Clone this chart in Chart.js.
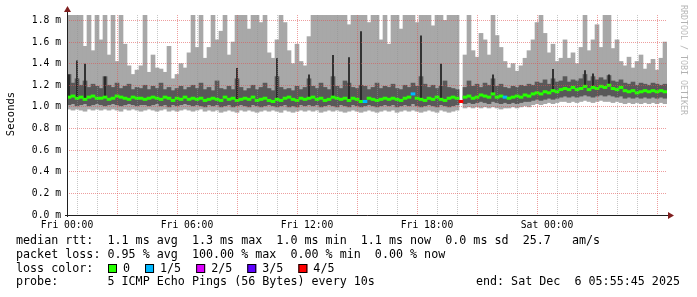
<!DOCTYPE html>
<html>
<head>
<meta charset="utf-8">
<script src="https://cdn.jsdelivr.net/npm/chart.js@4.4.1/dist/chart.umd.min.js"></script>
<style>
	html, body { margin: 0; padding: 0; background: #fff; }
	#c { display: block; }
</style>
</head>
<body>
<canvas id="c" width="697" height="297"></canvas>
<script>
// one sample every 12 minutes, starting Fri 00:00 (values in ms)
const startMinute = 0;
const stepMinutes = 12;

const rttMax = [
	1.85,1.85,1.85,1.85,1.56,1.85,1.52,1.85,1.62,1.85,
	1.48,1.85,1.42,1.85,1.58,1.38,1.30,1.34,1.38,1.85,
	1.32,1.48,1.36,1.35,1.32,1.56,1.26,1.30,1.40,1.36,
	1.50,1.85,1.55,1.85,1.45,1.55,1.85,1.62,1.70,1.85,
	1.48,1.60,1.85,1.85,1.85,1.72,1.85,1.85,1.78,1.85,
	1.50,1.45,1.62,1.85,1.78,1.52,1.40,1.58,1.42,1.38,
	1.65,1.85,1.85,1.85,1.85,1.85,1.85,1.85,1.85,1.85,
	1.76,1.85,1.85,1.85,1.85,1.78,1.85,1.85,1.62,1.85,
	1.58,1.85,1.85,1.72,1.85,1.85,1.85,1.78,1.85,1.85,
	1.85,1.75,1.85,1.85,1.80,1.85,1.85,1.85,null,1.48,
	1.85,1.52,1.46,1.68,1.62,1.48,1.85,1.66,1.55,1.42,
	1.36,1.40,1.33,1.38,1.45,1.52,1.62,1.78,1.85,1.68,
	1.50,1.58,1.42,1.45,1.62,1.45,1.50,1.40,1.55,1.85,
	1.52,1.62,1.76,1.55,1.85,1.85,1.54,1.62,1.42,1.38,
	1.46,1.36,1.42,1.48,1.35,1.40,1.44,1.34,1.45,1.60
];
const rttHi = [
	1.30,1.22,1.26,1.20,1.24,1.18,1.21,1.19,1.17,1.28,
	1.20,1.18,1.22,1.17,1.19,1.21,1.16,1.18,1.17,1.20,
	1.16,1.19,1.17,1.22,1.16,1.18,1.15,1.17,1.19,1.16,
	1.18,1.20,1.17,1.22,1.16,1.18,1.15,1.24,1.17,1.16,
	1.19,1.16,1.26,1.18,1.15,1.17,1.20,1.16,1.18,1.22,
	1.17,1.15,1.28,1.18,1.16,1.17,1.15,1.19,1.16,1.18,
	1.26,1.19,1.17,1.22,1.18,1.16,1.28,1.19,1.17,1.24,
	1.22,1.18,1.17,1.20,1.19,1.16,1.18,1.22,1.17,1.19,
	1.18,1.21,1.17,1.16,1.20,1.18,1.22,1.19,1.28,1.21,
	1.18,1.20,1.17,1.19,1.24,1.18,1.17,1.16,null,1.18,
	1.24,1.19,1.21,1.18,1.22,1.20,1.26,1.19,1.21,1.18,
	1.17,1.19,1.18,1.20,1.19,1.21,1.20,1.23,1.22,1.25,
	1.21,1.26,1.23,1.24,1.28,1.23,1.25,1.24,1.26,1.30,
	1.24,1.28,1.25,1.27,1.25,1.29,1.24,1.23,1.25,1.22,
	1.21,1.23,1.20,1.22,1.21,1.20,1.22,1.21,1.20,1.21
];
const rttMed = [
	1.09,1.10,1.08,1.09,1.07,1.09,1.10,1.08,1.08,1.09,
	1.07,1.08,1.10,1.09,1.08,1.07,1.09,1.08,1.08,1.07,
	1.08,1.09,1.08,1.07,1.09,1.08,1.06,1.08,1.07,1.09,
	1.07,1.08,1.07,1.08,1.06,1.07,1.08,1.07,1.06,1.09,
	1.07,1.08,1.06,1.07,1.08,1.07,1.09,1.06,1.07,1.08,
	1.06,1.05,1.07,1.06,1.08,1.09,1.07,1.06,1.08,1.07,
	1.08,1.09,1.07,1.08,1.06,1.07,1.09,1.08,1.07,1.08,
	1.06,1.08,1.07,1.05,1.05,1.08,1.07,1.06,1.07,1.08,
	1.07,1.08,1.07,1.06,1.08,1.09,1.12,1.08,1.07,1.06,
	1.08,1.07,1.09,1.07,1.06,1.08,1.09,1.08,1.05,1.09,
	1.10,1.08,1.09,1.11,1.10,1.09,1.12,1.09,1.10,1.09,
	1.08,1.09,1.10,1.09,1.11,1.10,1.12,1.13,1.12,1.14,
	1.13,1.15,1.14,1.16,1.17,1.16,1.18,1.16,1.17,1.19,
	1.16,1.18,1.17,1.19,1.18,1.20,1.17,1.16,1.18,1.15,
	1.14,1.15,1.13,1.14,1.15,1.14,1.15,1.14,1.15,1.14
];
const rttLo = [
	1.02,1.03,1.01,1.02,1.03,1.01,1.02,1.03,1.02,1.01,
	1.02,1.03,1.02,1.01,1.02,1.03,1.02,1.01,1.02,1.02,
	1.01,1.02,1.03,1.01,1.02,1.00,1.02,1.01,1.02,1.03,
	1.02,1.01,1.02,1.01,1.00,1.02,1.01,1.02,1.00,1.01,
	1.02,1.00,1.01,1.02,1.01,1.00,1.02,1.01,1.00,1.01,
	1.02,1.01,1.00,1.01,1.02,1.00,1.01,1.00,1.02,1.01,
	1.02,1.01,1.02,1.00,1.01,1.02,1.01,1.00,1.02,1.01,
	1.00,1.02,1.01,1.00,1.01,1.02,1.01,1.00,1.01,1.02,
	1.01,1.02,1.00,1.01,1.02,1.01,1.03,1.01,1.00,1.01,
	1.02,1.01,1.00,1.02,1.01,1.00,1.01,1.02,null,1.03,
	1.04,1.03,1.04,1.05,1.04,1.03,1.05,1.04,1.03,1.04,
	1.03,1.04,1.03,1.04,1.05,1.05,1.06,1.07,1.06,1.07,
	1.08,1.07,1.08,1.09,1.10,1.09,1.10,1.09,1.10,1.11,
	1.10,1.09,1.10,1.11,1.10,1.11,1.10,1.09,1.10,1.08,
	1.09,1.08,1.09,1.08,1.09,1.08,1.09,1.08,1.09,1.08
];
const rttMin = [
	0.98,0.97,0.98,0.97,0.96,0.98,0.97,0.98,0.97,0.98,
	0.97,0.98,0.97,0.96,0.98,0.97,0.98,0.97,0.96,0.97,
	0.98,0.97,0.96,0.97,0.98,0.96,0.97,0.96,0.97,0.98,
	0.97,0.96,0.97,0.98,0.96,0.97,0.96,0.97,0.95,0.96,
	0.97,0.96,0.95,0.97,0.96,0.97,0.96,0.95,0.96,0.97,
	0.96,0.97,0.96,0.95,0.97,0.96,0.95,0.96,0.97,0.96,
	0.97,0.96,0.97,0.95,0.96,0.97,0.96,0.97,0.96,0.95,
	0.96,0.97,0.96,0.95,0.96,0.97,0.96,0.95,0.96,0.97,
	0.96,0.97,0.95,0.96,0.97,0.96,0.97,0.96,0.95,0.96,
	0.97,0.96,0.95,0.97,0.96,0.95,0.96,0.97,null,0.99,
	1.00,0.99,1.00,0.99,1.00,0.99,1.00,0.99,0.98,0.99,
	0.99,1.00,0.99,1.00,1.01,1.00,1.02,1.03,1.02,1.03,
	1.04,1.03,1.04,1.05,1.05,1.04,1.05,1.04,1.05,1.06,
	1.05,1.04,1.05,1.06,1.05,1.05,1.04,1.05,1.04,1.03,
	1.04,1.03,1.04,1.03,1.04,1.03,1.04,1.03,1.04,1.03
];

// single tall ping spikes (sample index -> peak ms)
const spikeIdx = [0, 2, 4, 9, 42, 52, 60, 66, 70, 73, 88, 93, 106, 121, 129, 131, 135];
const spikeTop = [1.30, 1.43, 1.40, 1.28, 1.36, 1.45, 1.30, 1.48, 1.46, 1.70, 1.66, 1.40, 1.30, 1.35, 1.34, 1.31, 1.30];

// samples with packet loss (index -> lost pings out of 5)
const lossIdx = [74, 86, 98, 109];
const lossLevel = [1, 1, 4, 1];

const lossNames = ['0', '1/5', '2/5', '3/5', '4/5'];
const lossColors = ['#26ff00', '#00b8ff', '#dd00ff', '#5e00ff', '#ff0000'];

const tickMinutes = [0, 360, 720, 1080, 1440];
const tickLabels = ['Fri 00:00', 'Fri 06:00', 'Fri 12:00', 'Fri 18:00', 'Sat 00:00'];

const statLines = [
	'median rtt:  1.1 ms avg  1.3 ms max  1.0 ms min  1.1 ms now  0.0 ms sd  25.7   am/s',
	'packet loss: 0.95 % avg  100.00 % max  0.00 % min  0.00 % now'
];
const probeText = 'probe:       5 ICMP Echo Pings (56 Bytes) every 10s';
const endText = 'end: Sat Dec  6 05:55:45 2025';

const MONO = "'DejaVu Sans Mono', 'Liberation Mono', monospace";
const GRID = 'rgba(143,143,143,0.5)';
const MGRID = 'rgba(222,79,79,0.55)';
const ARROW = '#801f1f';

const xOf = i => startMinute + i * stepMinutes + stepMinutes / 2;

const outer = [], inner = [], spikes = [], median = [], medianColors = [];
rttMed.forEach((m, i) => {
	const x = xOf(i);
	outer.push({ x, y: rttMin[i] == null ? null : [rttMin[i], rttMax[i]] });
	inner.push({ x, y: rttLo[i] == null ? null : [rttLo[i], rttHi[i]] });
	median.push({ x, y: [m - 0.011, m + 0.011] });
	const k = lossIdx.indexOf(i);
	medianColors.push(lossColors[k < 0 ? 0 : lossLevel[k]]);
});
spikeIdx.forEach((i, k) => spikes.push({ x: xOf(i), y: [rttMed[i], spikeTop[k]] }));

const decor = {
	id: 'decor',
	beforeDraw(chart) {
		const ctx = chart.ctx;
		ctx.save();
		ctx.fillStyle = '#fff';
		ctx.fillRect(0, 0, chart.width, chart.height);
		ctx.restore();
	},
	afterDraw(chart) {
		const ctx = chart.ctx;
		const a = chart.chartArea;
		ctx.save();

		// axes
		ctx.strokeStyle = '#1f1f1f';
		ctx.lineWidth = 1;
		ctx.beginPath();
		ctx.moveTo(a.left - 2, a.bottom + 0.5);
		ctx.lineTo(a.right + 3, a.bottom + 0.5);
		ctx.moveTo(a.left + 0.5, a.bottom + 2);
		ctx.lineTo(a.left + 0.5, a.top - 4);
		ctx.stroke();

		ctx.fillStyle = ARROW;
		ctx.beginPath();
		ctx.moveTo(a.right + 1, a.bottom - 3);
		ctx.lineTo(a.right + 7, a.bottom + 0.5);
		ctx.lineTo(a.right + 1, a.bottom + 4);
		ctx.closePath();
		ctx.fill();
		ctx.beginPath();
		ctx.moveTo(a.left - 3, a.top - 3);
		ctx.lineTo(a.left + 0.5, a.top - 9);
		ctx.lineTo(a.left + 4, a.top - 3);
		ctx.closePath();
		ctx.fill();

		// axis title
		ctx.fillStyle = '#000';
		ctx.font = '10.5px ' + MONO;
		ctx.textAlign = 'center';
		ctx.textBaseline = 'middle';
		ctx.save();
		ctx.translate(11, 114);
		ctx.rotate(-Math.PI / 2);
		ctx.fillText('Seconds', 0, 0);
		ctx.restore();

		// watermark
		ctx.save();
		ctx.fillStyle = 'rgba(0,0,0,0.3)';
		ctx.font = '8.3px ' + MONO;
		ctx.textAlign = 'left';
		ctx.translate(683, 5);
		ctx.rotate(Math.PI / 2);
		ctx.fillText('RRDTOOL / TOBI OETIKER', 0, 0);
		ctx.restore();

		// legend block
		ctx.font = '11.7px ' + MONO;
		ctx.textAlign = 'left';
		ctx.fillStyle = '#000';
		const rows = [241, 254.5, 268.5, 282];
		ctx.fillText(statLines[0], 16, rows[0]);
		ctx.fillText(statLines[1], 16, rows[1]);
		ctx.fillText('loss color:', 16, rows[2]);
		let x = 108;
		lossNames.forEach((name, k) => {
			ctx.fillStyle = lossColors[k];
			ctx.fillRect(x, rows[2] - 4.5, 9, 9);
			ctx.strokeStyle = '#000';
			ctx.strokeRect(x + 0.5, rows[2] - 4, 8, 8);
			ctx.fillStyle = '#000';
			ctx.fillText(name, x + 15, rows[2]);
			x += 15 + ctx.measureText(name).width + 15;
		});
		ctx.fillText(probeText, 16, rows[3]);
		ctx.textAlign = 'right';
		ctx.fillText(endText, 680, rows[3]);
		ctx.restore();
	}
};

new Chart(document.getElementById('c'), {
	type: 'bar',
	data: {
		datasets: [
			{ data: median, backgroundColor: medianColors, order: 0 },
			{ data: spikes, backgroundColor: '#262626', barPercentage: 0.45, order: 1 },
			{ data: inner, backgroundColor: '#595959', order: 2 },
			{ data: outer, backgroundColor: '#a8a8a8', order: 3 }
		]
	},
	options: {
		responsive: false,
		animation: false,
		devicePixelRatio: 1,
		layout: { padding: { top: 15, right: 30, bottom: 0, left: 0 } },
		datasets: {
			bar: { grouped: false, barPercentage: 1, categoryPercentage: 1, borderWidth: 0 }
		},
		plugins: { legend: { display: false }, tooltip: { enabled: false } },
		scales: {
			x: {
				type: 'linear',
				min: 0,
				max: 1800,
				offset: false,
				afterFit: s => { s.height = 82; },
				border: { display: false, dash: [1, 1] },
				grid: {
					z: 1,
					drawTicks: false,
					color: c => (c.tick && c.tick.value % 180 === 0) ? MGRID : GRID
				},
				ticks: {
					stepSize: 60,
					autoSkip: false,
					maxRotation: 0,
					includeBounds: false,
					padding: 5,
					color: '#000',
					font: { family: MONO, size: 9.7 },
					callback: v => {
						const k = tickMinutes.indexOf(v);
						return k < 0 ? '' : tickLabels[k];
					}
				}
			},
			y: {
				min: 0,
				max: 1.85,
				afterFit: s => { s.width = 67; },
				border: { display: false, dash: [1, 1] },
				grid: {
					z: 1,
					drawTicks: false,
					color: c => (c.tick && Math.round(c.tick.value * 10) % 2 === 0) ? MGRID : GRID
				},
				ticks: {
					stepSize: 0.1,
					includeBounds: false,
					padding: 6,
					color: '#000',
					font: { family: MONO, size: 9.7 },
					callback: v => Math.round(v * 10) % 2 === 0 ? v.toFixed(1) + ' m' : ''
				}
			}
		}
	},
	plugins: [decor]
});
</script>
</body>
</html>
